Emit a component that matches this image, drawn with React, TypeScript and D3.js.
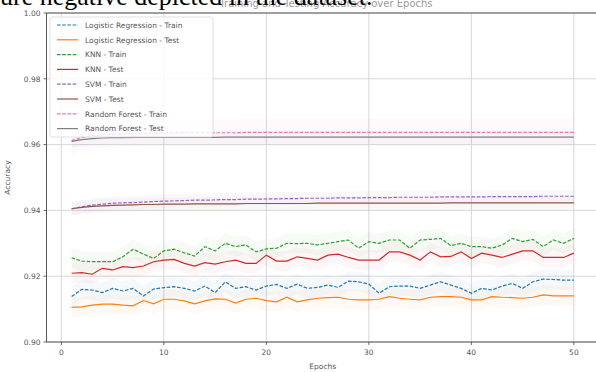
import React from "react";
import * as d3 from "d3";

// accuracy per epoch (1..50)
const epochs = d3.range(1, 51);

const lrTrain = [
  0.9138, 0.916, 0.9158, 0.915, 0.9163, 0.9155, 0.9163, 0.914, 0.9161, 0.9165,
  0.9168, 0.9163, 0.9155, 0.917, 0.915, 0.9183, 0.9163, 0.9168, 0.9158, 0.917,
  0.9175, 0.9163, 0.9176, 0.9163, 0.9166, 0.9173, 0.9166, 0.9185, 0.9183, 0.9176,
  0.9148, 0.9168, 0.917, 0.917, 0.9163, 0.9173, 0.9183, 0.9173, 0.9163, 0.9148,
  0.9163, 0.9158, 0.917, 0.9178, 0.9163, 0.9183, 0.9191, 0.919, 0.9188, 0.9188,
];
const lrTest = [
  0.9105, 0.9107, 0.9112, 0.9115, 0.9115, 0.9112, 0.911, 0.9126, 0.9116, 0.913,
  0.913, 0.9125, 0.9116, 0.9125, 0.9131, 0.913, 0.9118, 0.913, 0.9133, 0.9126,
  0.9122, 0.9136, 0.9122, 0.9128, 0.9133, 0.9135, 0.9136, 0.913, 0.9128, 0.9128,
  0.913, 0.9138, 0.9133, 0.913, 0.9128, 0.9136, 0.9138, 0.9138, 0.9136, 0.9128,
  0.9128, 0.9138, 0.9136, 0.9135, 0.9133, 0.9136, 0.9143, 0.914, 0.914, 0.914,
];
const knnTrain = [
  0.9256, 0.9246, 0.9244, 0.9244, 0.9244, 0.9259, 0.9282, 0.9267, 0.9254, 0.9277,
  0.9282, 0.9271, 0.9261, 0.929, 0.9277, 0.93, 0.929, 0.9295, 0.9274, 0.9283,
  0.9285, 0.93, 0.9299, 0.93, 0.9295, 0.93, 0.9305, 0.931, 0.9285, 0.9305,
  0.93, 0.931, 0.931, 0.9285, 0.931, 0.9312, 0.9315, 0.9293, 0.93, 0.929,
  0.929, 0.9285, 0.9295, 0.9315, 0.9305, 0.9312, 0.929, 0.931, 0.93, 0.9315,
];
const knnTest = [
  0.9209, 0.9211, 0.9206, 0.9224, 0.9219, 0.9229, 0.9226, 0.9231, 0.9244, 0.9249,
  0.9251, 0.9239, 0.9231, 0.9241, 0.9237, 0.9244, 0.9249, 0.9239, 0.9239, 0.9264,
  0.9246, 0.9246, 0.9259, 0.9254, 0.9249, 0.9264, 0.9267, 0.9257, 0.9249, 0.9249,
  0.9249, 0.9274, 0.9274, 0.9264, 0.9249, 0.9274, 0.9259, 0.926, 0.9274, 0.9254,
  0.927, 0.9264, 0.9257, 0.9267, 0.9277, 0.9277, 0.9257, 0.9257, 0.9257, 0.927,
];
const svmTrain = [
  0.9405, 0.9411, 0.9416, 0.9419, 0.9422, 0.9423, 0.9424, 0.9425, 0.9427, 0.9428,
  0.9429, 0.943, 0.9431, 0.9431, 0.9432, 0.9433, 0.9433, 0.9434, 0.9434, 0.9435,
  0.9435, 0.9436, 0.9436, 0.9437, 0.9437, 0.9437, 0.9438, 0.9438, 0.9438, 0.9439,
  0.9439, 0.9439, 0.944, 0.944, 0.944, 0.944, 0.9441, 0.9441, 0.9441, 0.9441,
  0.9441, 0.9442, 0.9442, 0.9442, 0.9442, 0.9442, 0.9443, 0.9443, 0.9443, 0.9443,
];
const svmTest = [
  0.9405, 0.9409, 0.9412, 0.9414, 0.9415, 0.9416, 0.9417, 0.9418, 0.9418, 0.9419,
  0.9419, 0.9419, 0.942, 0.942, 0.942, 0.942, 0.942, 0.9421, 0.9421, 0.9421,
  0.9421, 0.9421, 0.9421, 0.9421, 0.9422, 0.9422, 0.9422, 0.9422, 0.9422, 0.9422,
  0.9422, 0.9422, 0.9422, 0.9422, 0.9422, 0.9422, 0.9422, 0.9423, 0.9423, 0.9423,
  0.9423, 0.9423, 0.9423, 0.9423, 0.9423, 0.9423, 0.9423, 0.9423, 0.9423, 0.9423,
];
const rfTrain = [
  0.9612, 0.9622, 0.9627, 0.963, 0.9632, 0.9633, 0.9634, 0.9634, 0.9635, 0.9635,
  0.9635, 0.9636, 0.9636, 0.9636, 0.9636, 0.9636, 0.9636, 0.9637, 0.9637, 0.9637,
  0.9637, 0.9637, 0.9637, 0.9637, 0.9637, 0.9637, 0.9637, 0.9637, 0.9637, 0.9637,
  0.9637, 0.9637, 0.9637, 0.9637, 0.9637, 0.9637, 0.9637, 0.9637, 0.9637, 0.9637,
  0.9637, 0.9637, 0.9637, 0.9637, 0.9637, 0.9637, 0.9637, 0.9637, 0.9637, 0.9637,
];
const rfTest = [
  0.961, 0.9615, 0.9618, 0.962, 0.9621, 0.9621, 0.9622, 0.9622, 0.9622, 0.9622,
  0.9622, 0.9622, 0.9622, 0.9622, 0.9622, 0.9623, 0.9623, 0.9623, 0.9623, 0.9623,
  0.9623, 0.9623, 0.9623, 0.9623, 0.9623, 0.9623, 0.9623, 0.9623, 0.9623, 0.9623,
  0.9623, 0.9623, 0.9623, 0.9623, 0.9623, 0.9623, 0.9623, 0.9623, 0.9623, 0.9623,
  0.9623, 0.9623, 0.9623, 0.9623, 0.9623, 0.9623, 0.9623, 0.9623, 0.9623, 0.9623,
];

const seriesNames = [
  "Logistic Regression - Train",
  "Logistic Regression - Test",
  "KNN - Train",
  "KNN - Test",
  "SVM - Train",
  "SVM - Test",
  "Random Forest - Train",
  "Random Forest - Test",
];
const seriesValues = [lrTrain, lrTest, knnTrain, knnTest, svmTrain, svmTest, rfTrain, rfTest];
// half-width of the faint shaded band round each line
const bandSpread = [0.003, 0.003, 0.003, 0.003, 0.002, 0.002, 0.004, 0.002];
const colors = ["#1f77b4", "#ff7f0e", "#2ca02c", "#d62728", "#9467bd", "#8c564b", "#e377c2", "#7f7f7f"];

const xTicks = [0, 10, 20, 30, 40, 50];
const yTicks = [0.9, 0.92, 0.94, 0.96, 0.98, 1.0];

const W = 596;
const H = 372;
const FONT = "DejaVu Sans, sans-serif";

export default function App() {
  const x = d3.scaleLinear().domain([-1.45, 52.45]).range([46.5, 599]);
  const y = d3.scaleLinear().domain([0.9, 1.0]).range([342, 13]);

  const line = d3
    .line<number>()
    .x((_, i) => x(epochs[i]))
    .y((d) => y(d));

  const band = (vals: number[], s: number) =>
    d3
      .area<number>()
      .x((_, i) => x(epochs[i]))
      .y0((d) => y(d - s))
      .y1((d) => y(d + s))(vals) || "";

  const [x0, x1] = x.range();
  const [yb, yt] = y.range();

  return (
    <svg
      width={W}
      height={H}
      style={{ position: "absolute", left: 0, top: 0, background: "#fff" }}
    >
      <rect x={0} y={0} width={W} height={H} fill="#fff" />

      {/* grid */}
      {xTicks.map((t) => (
        <line key={"gx" + t} x1={x(t)} x2={x(t)} y1={yt} y2={yb} stroke="#d4d4d4" strokeWidth={0.9} />
      ))}
      {yTicks.map((t) => (
        <line key={"gy" + t} x1={x0} x2={x1} y1={y(t)} y2={y(t)} stroke="#d4d4d4" strokeWidth={0.9} />
      ))}

      {/* shaded bands */}
      {seriesValues.map((vals, i) => (
        <path key={"b" + i} d={band(vals, bandSpread[i])} fill={colors[i]} opacity={0.045} />
      ))}

      {/* lines */}
      {seriesValues.map((vals, i) => (
        <path
          key={"l" + i}
          d={line(vals) || ""}
          fill="none"
          stroke={colors[i]}
          strokeWidth={1.2}
          strokeDasharray={i % 2 === 0 ? "3.6,1.6" : undefined}
        />
      ))}

      {/* spines */}
      <line x1={x0} x2={x0} y1={yt} y2={yb} stroke="#444" strokeWidth={0.9} />
      <line x1={x0} x2={x1} y1={yb} y2={yb} stroke="#444" strokeWidth={0.9} />
      <line x1={x0} x2={x1} y1={yt} y2={yt} stroke="#444" strokeWidth={0.9} />

      {/* ticks */}
      {xTicks.map((t) => (
        <g key={"tx" + t}>
          <line x1={x(t)} x2={x(t)} y1={yb} y2={yb + 3} stroke="#444" strokeWidth={0.8} />
          <text x={x(t)} y={yb + 13} textAnchor="middle" fontFamily={FONT} fontSize={7.5} fill="#555">
            {t}
          </text>
        </g>
      ))}
      {yTicks.map((t) => (
        <g key={"ty" + t}>
          <line x1={x0 - 3} x2={x0} y1={y(t)} y2={y(t)} stroke="#444" strokeWidth={0.8} />
          <text x={x0 - 6} y={y(t) + 2.7} textAnchor="end" fontFamily={FONT} fontSize={7.5} fill="#555">
            {t.toFixed(2)}
          </text>
        </g>
      ))}

      <text x={(x0 + x1) / 2} y={369} textAnchor="middle" fontFamily={FONT} fontSize={7.5} fill="#555">
        Epochs
      </text>
      <text
        transform={`translate(10,${(yt + yb) / 2}) rotate(-90)`}
        textAnchor="middle"
        fontFamily={FONT}
        fontSize={7.5}
        fill="#555"
      >
        Accuracy
      </text>

      {/* legend */}
      <rect x={50} y={17} width={163} height={120} rx={2} fill="#fff" fillOpacity={0.8} stroke="#d8d8d8" strokeWidth={0.8} />
      {seriesNames.map((name, i) => {
        const ly = 25 + i * 14.8;
        return (
          <g key={"lg" + i}>
            <line
              x1={57}
              x2={78}
              y1={ly}
              y2={ly}
              stroke={colors[i]}
              strokeWidth={1.2}
              strokeDasharray={i % 2 === 0 ? "3.6,1.6" : undefined}
            />
            <text x={85} y={ly + 2.7} fontFamily={FONT} fontSize={7.5} fill="#555">
              {name}
            </text>
          </g>
        );
      })}

      {/* cut-off title and surrounding document text */}
      <text x={326} y={7} textAnchor="middle" fontFamily={FONT} fontSize={10} fill="#9a9a9a">
        Training and Testing Accuracy over Epochs
      </text>
      <text x={0} y={5} fontFamily="Liberation Serif, serif" fontSize={26} fill="#000">
        ure negative depicted in the dataset.
      </text>
    </svg>
  );
}
